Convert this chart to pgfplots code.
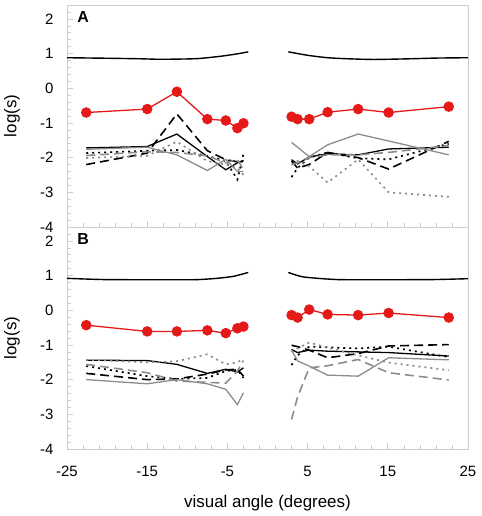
\documentclass[border=0pt]{standalone}
\usepackage{pgfplots}
\pgfplotsset{compat=1.18}
\usepackage{fontspec}
\setmainfont{Liberation Sans}
\definecolor{ptred}{RGB}{230,25,25}
\definecolor{ptgray}{RGB}{140,140,140}
\definecolor{framec}{RGB}{205,205,205}
\pgfplotsset{
  panel/.style={
    width=401bp, height=222bp, scale only axis,
    xmin=-25, xmax=25, ymin=-4, ymax=2.4,
    axis line style={framec, line width=0.8pt},
    xtick={-25,-15,-5,5,15,25},
    minor xtick={-23,-21,-19,-17,-13,-11,-9,-7,-3,-1,1,3,7,9,11,13,17,19,21,23},
    ytick={-4,-3,-2,-1,0,1,2},
    minor ytick={-3.8,-3.6,-3.4,-3.2,-2.8,-2.6,-2.4,-2.2,-1.8,-1.6,-1.4,-1.2,-0.8,-0.6,-0.4,-0.2,0.2,0.4,0.6,0.8,1.2,1.4,1.6,1.8,2.2},
    tick pos=left, tick align=inside,
    major tick length=6bp, minor tick length=4bp,
    every tick/.style={framec, line width=0.6pt},
    yticklabels={-4,-3,-2,-1,0,1,2},
    ticklabel style={font=\fontsize{15}{18}\selectfont},
    yticklabel style={xshift=-10bp},
    xticklabel style={yshift=-14bp},
    ylabel={log(s)},
    every axis y label/.style={at={(axis description cs:-0.137,0.5)}, rotate=90, anchor=center, font=\fontsize{17}{20}\selectfont},
    every axis x label/.style={at={(axis description cs:0.5,-0.243)}, anchor=center, font=\fontsize{17}{20}\selectfont},
  },
  bs/.style={black, line width=1.3pt},
  bd/.style={black, line width=1.6pt, dash pattern=on 9bp off 5bp},
  bo/.style={black, line width=1.7pt, dash pattern=on 2bp off 4bp},
  gs/.style={ptgray, line width=1.3pt},
  gd/.style={ptgray, line width=1.6pt, dash pattern=on 9bp off 5bp},
  go/.style={ptgray, line width=1.7pt, dash pattern=on 2bp off 4bp},
  rd/.style={ptred, line width=1.3pt, mark=*, mark size=4.6bp, mark options={solid, fill=ptred, draw=ptred}},
  tp/.style={black, line width=1.4pt, smooth, tension=0.4},
}
\begin{document}
\begin{tikzpicture}
% ---------------- Panel A ----------------
\begin{axis}[panel, name=A, at={(0,0)}, anchor=south west, xticklabels={}]
\node[font=\fontsize{16}{19}\selectfont\bfseries] at (rel axis cs:0.04,0.946) {A};
% left
\addplot[bs] coordinates {(-22.6,-1.72) (-15,-1.68) (-11.3,-1.32) (-7.5,-1.97) (-5.2,-2.35) (-3.75,-2.15) (-3.0,-2.08)};
\addplot[bd] coordinates {(-22.6,-2.20) (-15,-1.87) (-11.3,-0.74) (-7.5,-1.80) (-5.2,-2.06) (-3.75,-2.12) (-3.0,-2.10)};
\addplot[bo] coordinates {(-22.6,-1.87) (-15,-1.80) (-11.3,-1.78) (-7.5,-1.95) (-5.2,-2.10) (-3.75,-2.63) (-3.0,-1.90)};
\addplot[gs] coordinates {(-22.6,-1.76) (-15,-1.70) (-11.3,-1.92) (-7.5,-2.37) (-5.2,-2.05) (-3.75,-2.40) (-3.0,-2.40)};
\addplot[gd] coordinates {(-22.6,-1.94) (-15,-1.83) (-11.3,-1.85) (-7.5,-1.95) (-5.2,-2.15) (-3.75,-2.05) (-3.0,-2.35)};
\addplot[go] coordinates {(-22.6,-2.01) (-15,-1.95) (-11.3,-1.54) (-7.5,-2.10) (-5.2,-2.20) (-3.75,-2.30) (-3.0,-2.50)};
% right
\addplot[bs] coordinates {(3.0,-2.06) (3.75,-2.18) (5.2,-1.98) (7.5,-1.89) (11.3,-1.92) (15.1,-1.75) (22.6,-1.70)};
\addplot[bd] coordinates {(3.0,-2.10) (3.75,-2.30) (5.2,-2.20) (7.5,-1.85) (11.3,-2.00) (15.1,-2.33) (22.6,-1.53)};
\addplot[bo] coordinates {(3.0,-2.56) (3.75,-2.30) (5.2,-2.00) (7.5,-1.85) (11.3,-2.02) (15.1,-2.05) (22.6,-1.60)};
\addplot[gs] coordinates {(3.0,-1.56) (3.75,-1.70) (5.2,-1.97) (7.5,-1.63) (11.3,-1.32) (15.1,-1.52) (22.6,-1.92)};
\addplot[gd] coordinates {(3.0,-2.20) (3.75,-2.15) (5.2,-2.00) (7.5,-1.92) (11.3,-1.92) (15.1,-1.85) (22.6,-1.65)};
\addplot[go] coordinates {(3.0,-2.20) (3.75,-2.10) (5.2,-2.25) (7.5,-2.72) (11.3,-2.05) (15.1,-3.00) (22.6,-3.13)};
% red
\addplot[rd] coordinates {(-22.6,-0.70) (-15,-0.60) (-11.3,-0.10) (-7.5,-0.89) (-5.2,-0.93) (-3.75,-1.15) (-3.0,-1.01)};
\addplot[rd] coordinates {(3.0,-0.82) (3.75,-0.89) (5.2,-0.89) (7.5,-0.69) (11.3,-0.60) (15.1,-0.70) (22.6,-0.53)};
% top curve
\addplot[tp] coordinates {(-25,0.88) (-20,0.865) (-15.9,0.85) (-13.4,0.835) (-10,0.845) (-8.4,0.86) (-5.9,0.92) (-3.8,0.99) (-2.4,1.05)};
\addplot[tp] coordinates {(2.6,1.05) (5.0,0.95) (7.5,0.88) (10,0.85) (13.3,0.83) (17.9,0.85) (21,0.87) (25,0.88)};
\end{axis}
% ---------------- Panel B ----------------
\begin{axis}[panel, name=B, at={(0,-222bp)}, anchor=south west,
  xticklabels={-25,-15,-5,5,15,25}, xlabel={visual angle (degrees)}]
\node[font=\fontsize{16}{19}\selectfont\bfseries] at (rel axis cs:0.04,0.946) {B};
% left
\addplot[bs] coordinates {(-22.6,-1.44) (-15,-1.45) (-11.3,-1.56) (-7.5,-1.82) (-5.2,-1.70) (-3.75,-1.78) (-3.0,-1.66)};
\addplot[bd] coordinates {(-22.6,-1.82) (-15,-2.00) (-11.3,-1.98) (-7.5,-1.84) (-5.2,-1.72) (-3.75,-1.70) (-3.0,-1.90)};
\addplot[bo] coordinates {(-22.6,-1.61) (-15,-1.90) (-11.3,-1.98) (-7.5,-1.95) (-5.2,-1.75) (-3.75,-1.72) (-3.0,-1.95)};
\addplot[gs] coordinates {(-22.6,-2.00) (-15,-2.12) (-11.3,-2.00) (-7.5,-2.12) (-5.2,-2.28) (-3.75,-2.72) (-3.0,-2.38)};
\addplot[gd] coordinates {(-22.6,-1.56) (-15,-1.80) (-11.3,-2.04) (-7.5,-2.08) (-5.2,-2.10) (-3.75,-1.75) (-3.0,-1.45)};
\addplot[go] coordinates {(-22.6,-1.43) (-15,-1.50) (-11.3,-1.47) (-7.5,-1.27) (-5.2,-1.56) (-3.75,-1.50) (-3.0,-1.40)};
% right
\addplot[bs] coordinates {(3.0,-1.13) (3.75,-1.22) (5.2,-1.15) (7.5,-1.18) (11.3,-1.20) (15.1,-1.22) (22.6,-1.32)};
\addplot[bd] coordinates {(3.0,-1.01) (3.75,-1.05) (5.2,-1.15) (7.5,-1.37) (11.3,-1.25) (15.1,-1.03) (22.6,-0.99)};
\addplot[bo] coordinates {(3.0,-1.58) (3.75,-1.30) (5.2,-1.05) (7.5,-1.07) (11.3,-1.10) (15.1,-1.05) (22.6,-1.35)};
\addplot[gs] coordinates {(3.0,-1.15) (3.75,-1.46) (5.2,-1.61) (7.5,-1.87) (11.3,-1.90) (15.1,-1.37) (22.6,-1.43)};
\addplot[gd] coordinates {(3.0,-3.15) (3.75,-2.50) (5.2,-1.66) (7.5,-1.60) (11.3,-1.42) (15.1,-1.80) (22.6,-2.01)};
\addplot[go] coordinates {(3.0,-1.20) (3.75,-1.10) (5.2,-0.93) (7.5,-1.08) (11.3,-1.30) (15.1,-1.51) (22.6,-1.73)};
% red
\addplot[rd] coordinates {(-22.6,-0.43) (-15,-0.61) (-11.3,-0.61) (-7.5,-0.58) (-5.2,-0.66) (-3.75,-0.52) (-3.0,-0.47)};
\addplot[rd] coordinates {(3.0,-0.14) (3.75,-0.21) (5.2,0.02) (7.5,-0.12) (11.3,-0.14) (15.1,-0.08) (22.6,-0.21)};
% top curve
\addplot[tp] coordinates {(-25,0.92) (-20.5,0.885) (-15,0.88) (-9.2,0.88) (-6.3,0.92) (-4.2,0.98) (-2.4,1.09)};
\addplot[tp] coordinates {(2.6,1.09) (4.5,0.96) (8.7,0.885) (15,0.88) (20.8,0.885) (25,0.91)};
\end{axis}
\pgfresetboundingbox
\path[use as bounding box] (-67bp,-289bp) rectangle (415bp,227bp);
\end{tikzpicture}
\end{document}
